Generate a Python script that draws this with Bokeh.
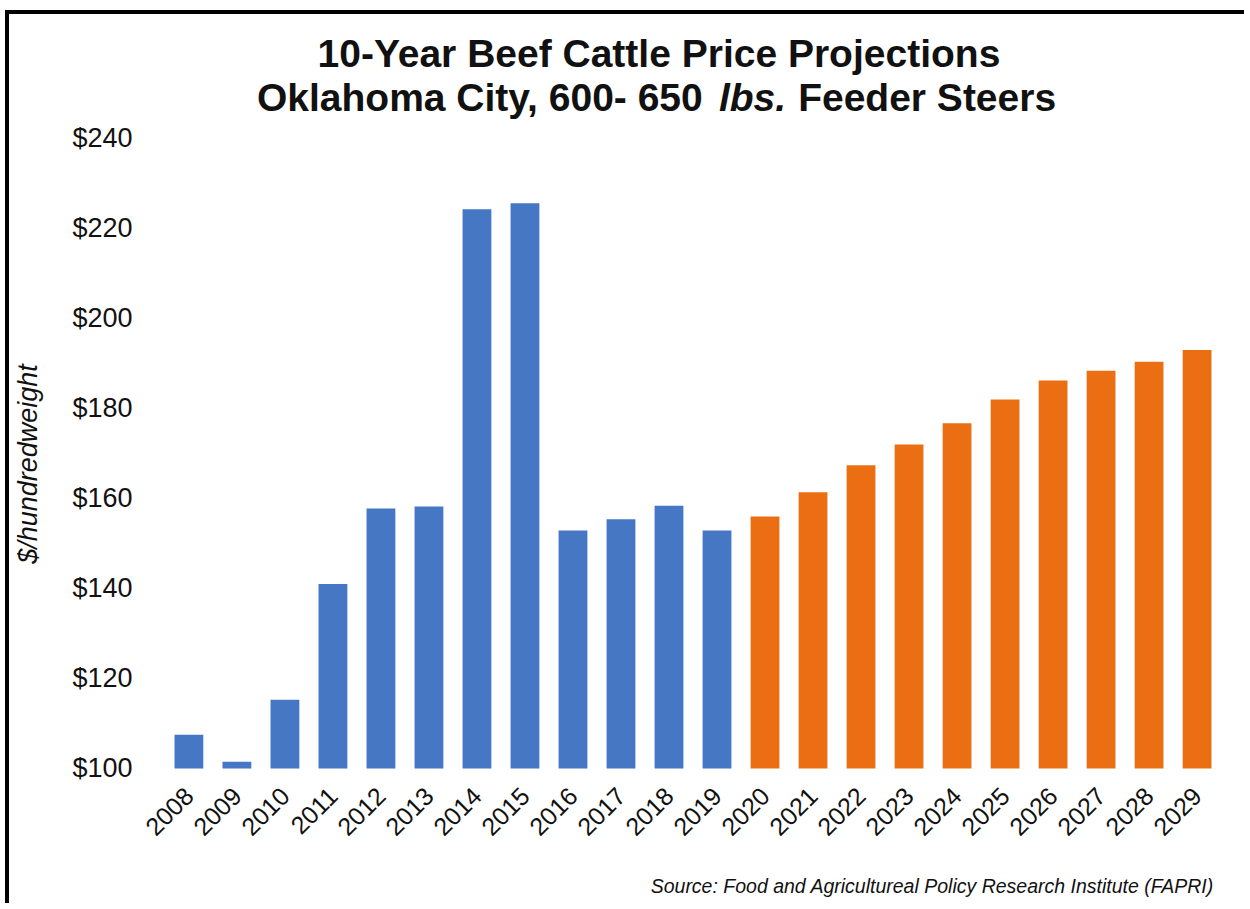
import math
from bokeh.plotting import figure
from bokeh.models import Label
from bokeh.embed import file_html
from bokeh.resources import INLINE

# ---- data ----
hist_years = ["2008", "2009", "2010", "2011", "2012", "2013", "2014", "2015",
              "2016", "2017", "2018", "2019"]
hist_prices = [107.5, 101.5, 115.3, 141.0, 157.8, 158.2, 224.3, 225.6,
               152.9, 155.4, 158.4, 152.9]
proj_years = ["2020", "2021", "2022", "2023", "2024", "2025", "2026", "2027",
              "2028", "2029"]
proj_prices = [156.0, 161.4, 167.4, 172.0, 176.7, 182.0, 186.2, 188.4,
               190.4, 193.0]
y_ticks = [100, 120, 140, 160, 180, 200, 220, 240]
title_line1 = "10-Year Beef Cattle Price Projections"
title_line2 = ["Oklahoma City, 600- 650", "lbs.", "Feeder Steers"]
y_label = "$/hundredweight"
source_text = "Source: Food and Agricultureal Policy Research Institute (FAPRI)"

all_years = hist_years + proj_years
FONT = "Liberation Sans"
INK = "#111111"

# frame covers title and source rows; y range chosen so $100..$240 sit
# where the reference puts them
p = figure(x_range=all_years, y_range=(70, 265.33),
           width=1239, height=893,
           output_backend="svg", toolbar_location=None, tools="",
           min_border_left=129, min_border_right=1,
           min_border_top=10, min_border_bottom=4)
p.x_range.range_padding = 0.55
p.x_range.range_padding_units = "absolute"
p.styles = {"margin-top": "10px", "margin-left": "5px",
            "border-top": "4px solid #000000",
            "border-left": "4px solid #000000"}
p.background_fill_color = "white"
p.border_fill_color = "white"
p.outline_line_color = None
p.xgrid.grid_line_color = None
p.ygrid.grid_line_color = None

p.vbar(x=hist_years, top=hist_prices, bottom=100, width=0.6,
       fill_color="#4677C5", line_color=None)
p.vbar(x=proj_years, top=proj_prices, bottom=100, width=0.6,
       fill_color="#EB6F12", line_color=None)

# y axis
p.yaxis.ticker = y_ticks
p.yaxis.major_label_overrides = {v: "$%d" % v for v in y_ticks}
p.yaxis.axis_line_color = None
p.yaxis.major_tick_line_color = None
p.yaxis.minor_tick_line_color = None
p.yaxis.major_label_text_font = FONT
p.yaxis.major_label_text_font_size = "27px"
p.yaxis.major_label_text_color = INK
p.yaxis.major_label_standoff = 0
p.yaxis.axis_label = y_label
p.yaxis.axis_label_text_font = FONT
p.yaxis.axis_label_text_font_style = "italic"
p.yaxis.axis_label_text_font_size = "27px"
p.yaxis.axis_label_text_color = INK
p.yaxis.axis_label_standoff = 26

# x axis, pinned at the $100 baseline
p.xaxis.fixed_location = 100
p.xaxis.axis_line_color = None
p.xaxis.major_tick_line_color = None
p.xaxis.minor_tick_line_color = None
p.xaxis.major_label_orientation = math.pi / 4
p.xaxis.major_label_text_font = FONT
p.xaxis.major_label_text_font_size = "25px"
p.xaxis.major_label_text_color = INK
p.xaxis.major_label_standoff = 17

# title (two lines, with italic "lbs.")
def add_text(x, y, text, align, style, size):
    p.add_layout(Label(x=x, y=y, text=text, text_align=align,
                       text_baseline="alphabetic", text_font=FONT,
                       text_font_style=style, text_font_size=size,
                       text_color=INK))

add_text(10.29, 258.8, title_line1, "center", "bold", "39px")
add_text(1.917, 249.0, title_line2[0], "left", "bold", "39px")
add_text(11.54, 249.0, title_line2[1], "left", "bold italic", "39px")
add_text(13.19, 249.0, title_line2[2], "left", "bold", "39px")

# source note
add_text(21.85, 73.9, source_text, "right", "italic", "19.5px")

open("out.html", "w").write(file_html(p, INLINE))
